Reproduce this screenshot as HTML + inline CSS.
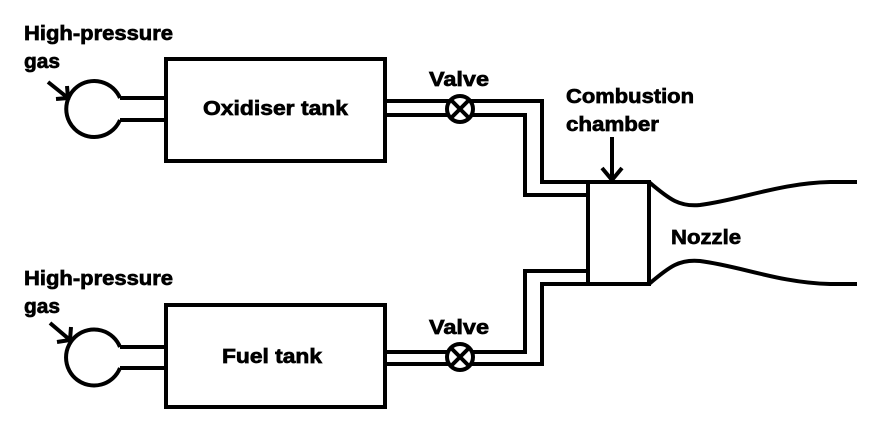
<!DOCTYPE html>
<html><head><meta charset="utf-8"><style>html,body{margin:0;padding:0;background:#fff}svg{display:block}</style></head>
<body>
<svg width="883" height="441" viewBox="0 0 883 441" xmlns="http://www.w3.org/2000/svg">
<g fill="none" stroke="#000" stroke-width="4">
<rect x="166" y="59" width="219" height="102"/>
<path d="M120,98 H166 M120,120 H166"/>
<path d="M120,98 A28,28 0 1 0 120,120"/>
<rect x="166" y="305" width="219" height="102"/>
<path d="M120,347 H166 M120,368 H166"/>
<path d="M120,347 A28,28 0 1 0 120,368"/>
<path d="M48,82 L68,98 M56,99 L68,98 L67,86"/>
<path d="M50,323 L70,340 M57,342 L70,340 L71,327"/>
<path d="M385,101 H542 V182 H588"/>
<path d="M385,115 H525 V195 H588"/>
<path d="M385,352 H525 V271 H588"/>
<path d="M385,364 H542 V284 H588"/>
<rect x="588" y="182" width="61" height="102"/>
<path d="M649,182 C670,200 680,207 700,205 C740,200 780,183 830,182 H857"/>
<path d="M649,284 C670,266 680,259 700,261 C740,266 780,283 830,284 H857"/>
<path d="M612,137 V180 M602,168 L612,180 L622,168"/>
</g>
<g stroke="#000" stroke-width="4" fill="#fff">
<circle cx="460" cy="109" r="13"/>
<circle cx="460" cy="357" r="13"/>
</g>
<g stroke="#000" stroke-width="4">
<path d="M451,100 L469,118 M469,100 L451,118"/>
<path d="M451,348 L469,366 M469,348 L451,366"/>
</g>
<g font-family="Liberation Sans, sans-serif" font-weight="bold" font-size="20" fill="#000" stroke="#000" stroke-width="0.7" lengthAdjust="spacingAndGlyphs">
<text x="24" y="40" textLength="149" lengthAdjust="spacingAndGlyphs">High-pressure</text>
<text x="24" y="68" textLength="36" lengthAdjust="spacingAndGlyphs">gas</text>
<text x="24" y="285" textLength="149" lengthAdjust="spacingAndGlyphs">High-pressure</text>
<text x="24" y="313" textLength="36" lengthAdjust="spacingAndGlyphs">gas</text>
<text x="203" y="115" textLength="145" lengthAdjust="spacingAndGlyphs">Oxidiser tank</text>
<text x="222" y="363" textLength="100" lengthAdjust="spacingAndGlyphs">Fuel tank</text>
<text x="429" y="86" textLength="60" lengthAdjust="spacingAndGlyphs">Valve</text>
<text x="429" y="334" textLength="60" lengthAdjust="spacingAndGlyphs">Valve</text>
<text x="566" y="103" textLength="128" lengthAdjust="spacingAndGlyphs">Combustion</text>
<text x="566" y="131" textLength="93" lengthAdjust="spacingAndGlyphs">chamber</text>
<text x="671" y="244" textLength="70" lengthAdjust="spacingAndGlyphs">Nozzle</text>
</g>
</svg>
</body></html>
